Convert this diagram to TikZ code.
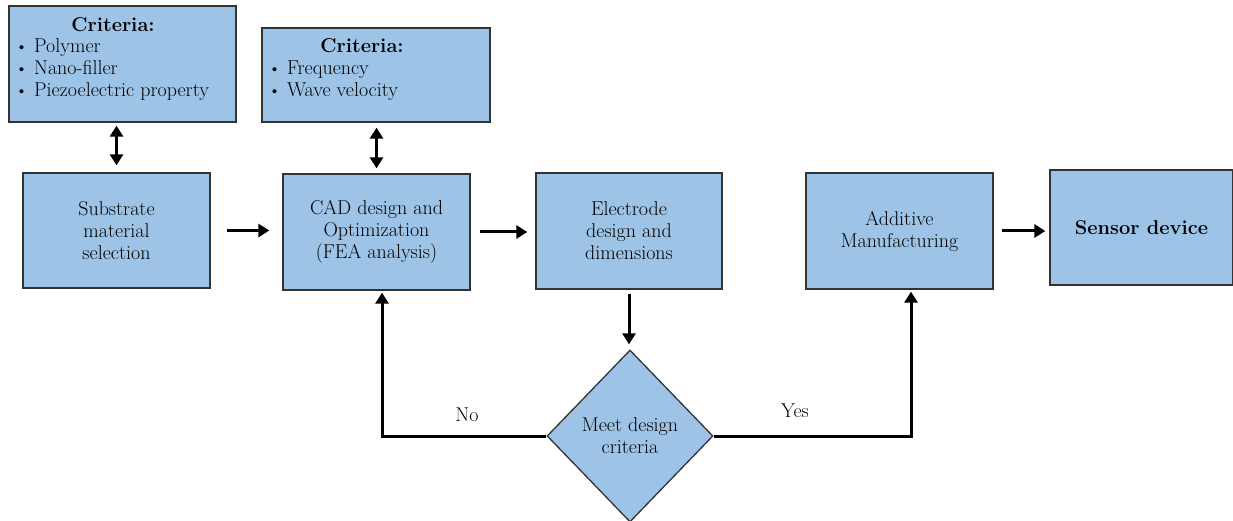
\documentclass[tikz,border=0pt]{standalone}
\usepackage{tikz}
\usetikzlibrary{arrows.meta, shapes.geometric, calc}
\definecolor{boxblue}{HTML}{9DC3E6}
\newcommand{\bul}{\raisebox{0.05ex}{\scalebox{0.9}{\textbullet}}\hspace{0.3em}}

\begin{document}
\begin{tikzpicture}[x=1pt, y=-1pt,
		block/.style={draw=black!80, line width=1.3pt, fill=boxblue, inner sep=0pt,
			align=center, font=\fontsize{20}{22}\selectfont},
		txt/.style={inner sep=0pt, align=left, font=\fontsize{20}{22}\selectfont},
		arr/.style={line width=3pt, -{Triangle[length=11pt, width=13pt]}},
		dblarr/.style={line width=3pt, {Triangle[length=11pt, width=13pt]}-{Triangle[length=11pt, width=13pt]}}]
		\useasboundingbox (0,0) rectangle (1233,521);
		% criteria boxes
		\node[block, minimum width=227pt, minimum height=116pt] (crit1) at (122.5,64) {};
		\node[txt, font=\fontsize{20}{22}\bfseries] (crit1title) at (113,25) {Criteria:};
		\node[txt, anchor=west] (crit1list) at (15,70) {\bul Polymer\\ \bul Nano-filler\\ \bul Piezoelectric property};
		\node[block, minimum width=228pt, minimum height=94pt] (crit2) at (376,75) {};
		\node[txt, font=\fontsize{20}{22}\bfseries] (crit2title) at (362,46) {Criteria:};
		\node[txt, anchor=west] (crit2list) at (268,81) {\bul Frequency\\ \bul Wave velocity};
		% main chain
		\node[block, minimum width=187pt, minimum height=115pt] (sub) at (116.5,230.5) {Substrate\\ material\\ selection};
		\node[block, minimum width=187pt, minimum height=116pt] (cad) at (376.5,232) {CAD design and\\ Optimization\\ (FEA analysis)};
		\node[block, minimum width=186pt, minimum height=116pt] (elec) at (629,231) {Electrode\\ design and\\ dimensions};
		\node[block, minimum width=187pt, minimum height=116pt] (add) at (899.5,231) {Additive\\ Manufacturing};
		\node[block, minimum width=183pt, minimum height=115pt, font=\fontsize{20}{22}\bfseries] (sens) at (1141.5,227.5) {Sensor device};
		% decision
		\node[block, diamond, minimum width=166pt, minimum height=172pt] (dec) at (630,436) {Meet design\\ criteria};
		% connectors
		\draw[dblarr, shorten <=7pt, shorten >=3pt] (sub.north) -- (sub.north |- crit1.south);
		\draw[dblarr, shorten <=5pt, shorten >=5pt] (cad.north) -- (cad.north |- crit2.south);
		\draw[arr, shorten <=16pt, shorten >=13pt] (sub.east) -- (sub.east -| cad.west);
		\draw[arr, shorten <=9pt, shorten >=8pt] (cad.east) -- (cad.east -| elec.west);
		\draw[arr, shorten <=4pt, shorten >=5pt] (elec.south) -- (elec.south |- dec.north);
		\draw[arr, shorten <=8pt, shorten >=4pt] (add.east) -- (add.east -| sens.west);
		\draw[arr, shorten >=2pt] (dec.west) -| ($(cad.south)+(5.5,0)$);
		\draw[arr, shorten >=2pt] (dec.east) -| ($(add.south)+(11.5,0)$);
		\node[txt] (lblno) at (467,415) {No};
		\node[txt] (lblyes) at (795,411) {Yes};
	\end{tikzpicture}
\end{document}
